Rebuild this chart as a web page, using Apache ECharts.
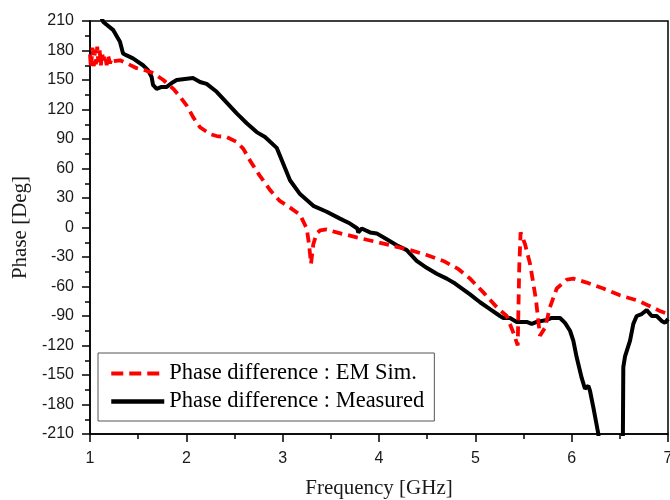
<!DOCTYPE html>
<html>
<head>
<meta charset="utf-8">
<script src="https://cdn.jsdelivr.net/npm/echarts@6/dist/echarts.min.js"></script>
<style>
  html, body { margin: 0; padding: 0; background: #fff; }
  #chart { width: 670px; height: 500px; }
</style>
</head>
<body>
<div id="chart"></div>
<script>
// Phase difference vs frequency: EM simulation against measurement
const simName = 'Phase difference : EM Sim.';
const measName = 'Phase difference : Measured';

const simFreq = [1.000, 1.010, 1.025, 1.040, 1.052, 1.062, 1.075, 1.086, 1.100, 1.113, 1.125, 1.138, 1.155, 1.173, 1.190, 1.208,
  1.225, 1.242, 1.311, 1.381, 1.485, 1.571, 1.657,
  1.761, 1.865, 1.934, 2.004, 2.072, 2.142, 2.246, 2.315, 2.419, 2.523, 2.592, 2.661, 2.76, 2.87, 2.97, 3.08, 3.18,
  3.25, 3.275, 3.294, 3.318, 3.353, 3.388, 3.457, 3.561, 3.768, 3.941, 4.114, 4.322, 4.495, 4.668, 4.82,
  4.945, 5.083, 5.222, 5.326, 5.395, 5.440, 5.456, 5.470, 5.516, 5.568, 5.602, 5.630, 5.654, 5.671, 5.723, 5.775,
  5.845, 5.949, 6.017, 6.156, 6.329, 6.502, 6.675, 6.813, 6.917, 7.000];
const simPhase = [176, 162, 183, 164, 181, 166, 184, 168, 180, 165, 178, 170, 176, 165, 174, 167,
  172, 169, 170, 167, 162, 160, 157,
  150, 141, 133, 124, 112, 102, 95, 93, 92, 87, 80, 68, 53, 38, 27, 20, 13,
  -1, -18, -37, -17, -6, -3, -2, -5, -10, -14, -18, -23, -28, -34, -42,
  -52, -66, -81, -90, -107, -120, -40, -5, -17, -37, -57, -74, -95, -110, -102, -81,
  -62, -53, -52, -56, -62, -69, -74, -80, -85, -88];

const measFreq = [1.080, 1.138, 1.239, 1.311, 1.343, 1.381, 1.446, 1.550, 1.602, 1.640, 1.654, 1.692, 1.744, 1.796, 1.848,
  1.900, 2.069, 2.142, 2.211, 2.315, 2.419, 2.523, 2.627, 2.730, 2.817, 2.938, 3.076, 3.180, 3.318, 3.457,
  3.595, 3.699, 3.775, 3.785, 3.820, 3.907, 3.976, 4.080, 4.184, 4.288, 4.391, 4.495, 4.599, 4.703, 4.79,
  4.945, 5.049, 5.152, 5.256, 5.291, 5.360, 5.430, 5.533, 5.585, 5.637, 5.741, 5.793, 5.879, 5.931, 5.983,
  6.017, 6.052, 6.104, 6.138, 6.173, 6.190, 6.225, 6.277, 6.300, 6.530, 6.536, 6.554, 6.606, 6.640, 6.675,
  6.727, 6.779, 6.831, 6.882, 6.934, 6.969, 7.000];
const measPhase = [222, 209, 201, 189, 177, 175, 172, 165, 160, 153, 145, 141, 143, 143, 147,
  150, 152, 148, 146, 138, 127, 116, 106, 97, 92, 81, 48, 34, 22, 16,
  9, 4, -1, -5, -1, -5, -6, -12, -18, -23, -34, -41, -47, -52, -57,
  -68, -76, -83, -90, -92, -92, -96, -96, -98, -96, -94, -92, -92, -97, -105,
  -115, -132, -153, -164, -161, -166, -183, -210, -240, -240, -142, -131, -115, -98, -90,
  -88, -84, -90, -90, -95, -97, -93];

const pairs = (xs, ys) => xs.map((x, i) => [x, ys[i]]);

const tickFont = { fontFamily: 'Liberation Sans', fontSize: 16, color: '#1a1a1a' };
const nameFont = { fontFamily: 'Liberation Serif', fontSize: 21, color: '#1a1a1a' };
const axisStroke = { color: '#000', width: 1.5 };

const chart = echarts.init(document.getElementById('chart'), null, { renderer: 'canvas' });
chart.setOption({
  animation: false,
  backgroundColor: '#fff',
  grid: {
    left: 90, right: 2, top: 21, bottom: 66,
    outerBoundsMode: 'none', containLabel: false,
    show: true, borderColor: '#000', borderWidth: 1.5, backgroundColor: 'transparent'
  },
  xAxis: {
    type: 'value', min: 1, max: 7, interval: 1,
    name: 'Frequency [GHz]', nameLocation: 'middle', nameGap: 44,
    nameTextStyle: nameFont,
    axisLine: { show: true, onZero: false, lineStyle: axisStroke },
    axisTick: { show: true, length: 8, lineStyle: axisStroke },
    minorTick: { show: true, splitNumber: 2, length: 5, lineStyle: axisStroke },
    axisLabel: Object.assign({ margin: 17 }, tickFont),
    splitLine: { show: false }
  },
  yAxis: {
    type: 'value', min: -210, max: 210, interval: 30,
    name: 'Phase [Deg]', nameLocation: 'middle', nameGap: 51,
    nameTextStyle: nameFont,
    axisLine: { show: true, onZero: false, lineStyle: axisStroke },
    axisTick: { show: true, length: 8, lineStyle: axisStroke },
    minorTick: { show: true, splitNumber: 2, length: 5, lineStyle: axisStroke },
    axisLabel: Object.assign({ margin: 16 }, tickFont),
    splitLine: { show: false }
  },
  legend: {
    orient: 'vertical', left: 98, top: 353,
    backgroundColor: '#fff', borderColor: '#555', borderWidth: 1,
    padding: [9, 10, 8, 11], itemGap: 5, itemWidth: 53, itemHeight: 14,
    itemStyle: { opacity: 0 },
    textStyle: { fontFamily: 'Liberation Serif', fontSize: 22.5, color: '#000', lineHeight: 22 },
    data: [
      { name: simName, lineStyle: { width: 4, type: [12, 6] } },
      { name: measName, lineStyle: { width: 4.5 } }
    ]
  },
  series: [
    {
      name: simName, type: 'line', symbol: 'none', z: 3,
      data: pairs(simFreq, simPhase),
      lineStyle: { color: '#ff0000', width: 3.8, type: [10, 6] },
      itemStyle: { color: '#ff0000' }
    },
    {
      name: measName, type: 'line', symbol: 'none', z: 2,
      data: pairs(measFreq, measPhase),
      lineStyle: { color: '#000', width: 4 },
      itemStyle: { color: '#000' }
    }
  ]
});
</script>
</body>
</html>
